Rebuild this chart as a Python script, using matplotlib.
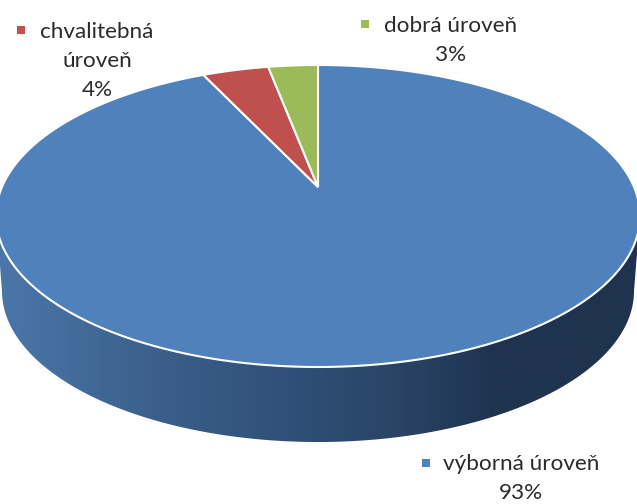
import matplotlib
matplotlib.use("Agg")
import matplotlib.pyplot as plt
import matplotlib.patches as mpatches
from matplotlib.colors import LinearSegmentedColormap
from matplotlib.path import Path
import numpy as np

plt.rcParams['font.family'] = ['Lato', 'DejaVu Sans']

# clockwise from the top of the pie: blue is 93, then red, then green
categories = ["výborná úroveň", "chvalitebná\núroveň", "dobrá úroveň"]
values = [93, 4, 3]
colors = ["#4f81bd", "#c0504d", "#9bbb59"]
label_pct = ["93%", "4%", "3%"]

# pie geometry in pixels, the tilt makes the apex sit above the ellipse centre
cx = 318.0
top_y, apex_y, bottom_y = 65.0, 187.0, 367.0
depth = 75.0
halfwidth = 322.0
halfwidth_low = 316.0

persp = (top_y + bottom_y - 2*apex_y) / (bottom_y - top_y)
a = top_y*(1 + persp) - apex_y
k = halfwidth*np.sqrt(1 - persp**2)


def project(frac):
	# frac is the share of the circle clockwise from the top
	t = 2*np.pi*np.asarray(frac)
	u, v = np.sin(t), np.cos(t)
	w = 1 + persp*v
	return cx + k*u/w, (a*v + apex_y)/w


fig = plt.figure(figsize=[6.37, 5.04], dpi=100)
ax = fig.add_axes([0, 0, 1, 1])
ax.set_xlim(0, 637)
ax.set_ylim(504, 0)
ax.axis('off')

# side wall, shaded from left to right
ell_cy = (top_y + bottom_y)/2
ell_ry = (bottom_y - top_y)/2
t = np.linspace(0, np.pi, 200)
side_pts = np.concatenate([
	np.column_stack([cx + halfwidth_low*np.cos(t), ell_cy + depth + ell_ry*np.sin(t)]),
	np.column_stack([cx + halfwidth*np.cos(t[::-1]), ell_cy + ell_ry*np.sin(t[::-1])]),
])
side_path = Path(np.vstack([side_pts, side_pts[0]]), closed=True)
cmap = LinearSegmentedColormap.from_list("side", [
	(0.0, "#4a76a8"), (0.25, "#3b5f8a"), (0.45, "#2f5078"),
	(0.62, "#2a4466"), (0.78, "#1f3350"), (1.0, "#1f334e"),
])
grad = np.linspace(0, 1, 256).reshape(1, -1)
im = ax.imshow(grad, cmap=cmap, extent=[0, 637, 504, 0], aspect='auto', zorder=1)
im.set_clip_path(mpatches.PathPatch(side_path, transform=ax.transData))

# top face: blue is the big slice running from the top round to the red one
fracs = np.array(values)/sum(values)
starts = [0.0, fracs[0], fracs[0] + fracs[1]]
for start, frac, color in zip(starts, fracs, colors):
	s = np.linspace(start, start + frac, max(int(frac*720), 8))
	x, y = project(s)
	pts = np.vstack([[cx, apex_y], np.column_stack([x, y])])
	ax.add_patch(mpatches.Polygon(pts, closed=True, fc=color, ec="white", lw=1.5, zorder=2))

# labels: key square + name + percent
label_pos = [(521, 464), (97, 32), (451, 26)]
key_pos = [(426, 463), (21, 30), (365, 24)]
for i in range(len(categories)):
	lx, ly = label_pos[i]
	lines = (categories[i] + "\n" + label_pct[i]).split("\n")
	for j, line in enumerate(lines):
		ax.text(lx, ly + j*29, line, ha="center", va="center", fontsize=16.2, color="#2b2b2b", zorder=3)
	ax.scatter(*key_pos[i], marker="s", s=30, color=colors[i], linewidths=0, zorder=3)

plt.savefig("out.png", dpi=100)
